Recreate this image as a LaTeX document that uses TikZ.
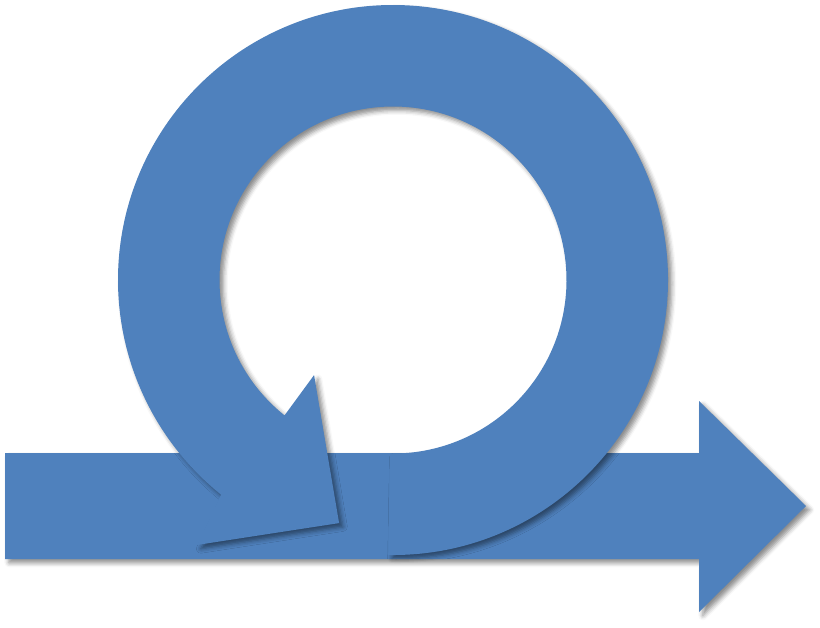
\documentclass[tikz,border=0pt]{standalone}
\usetikzlibrary{shadows.blur}
\definecolor{loopblue}{HTML}{4F81BD}
\tikzset{
	bluearrow/.style={fill=loopblue, blur shadow={shadow xshift=2.2pt, shadow yshift=-2.2pt, shadow blur radius=2.5pt, shadow opacity=45}}
}

\begin{document}
\begin{tikzpicture}[x=0.02cm, y=0.02cm]
			%%%%% frame %%%%%
			\useasboundingbox (0, 0) rectangle (820, 627);
			
			% straight arrow
			\path[bluearrow] (5, 174) -- (699, 174) -- (699, 226) -- (806, 121) -- (699, 15) -- (699, 68) -- (5, 68) -- cycle;
			
			% loop arrow
			\begin{scope}[shift={(393, 347)}]
				\path[bluearrow] (-91:275) arc[start angle=-91, end angle=231.3, radius=275]
					-- (233.5:329.6) -- (257.5:249) -- (230.3:123.6) -- (231.3:173.5)
					arc[start angle=231.3, end angle=-91, radius=173.5] -- cycle;
			\end{scope}
			
			%%%%% end %%%%%
		\end{tikzpicture}
\end{document}
